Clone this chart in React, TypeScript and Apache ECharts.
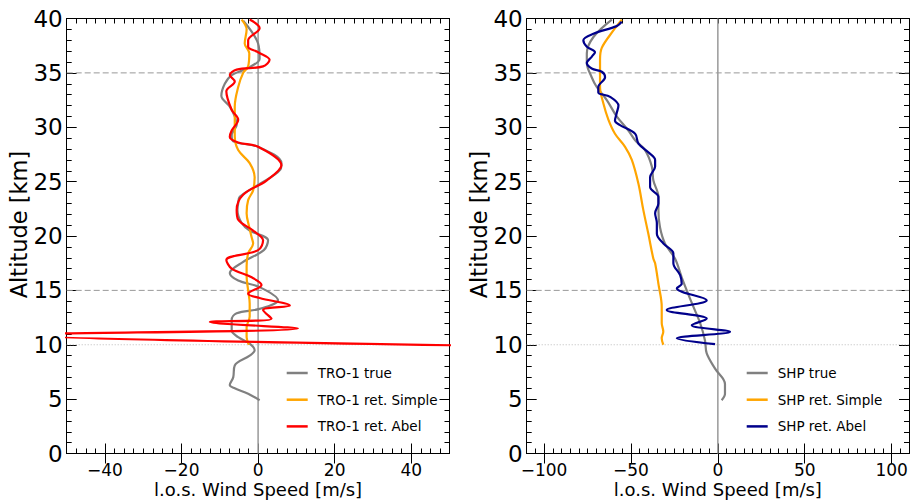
import React, { useEffect, useRef } from "react";
import * as echarts from "echarts";

const FONT = "DejaVu Sans";

// ---------- Left panel (TRO-1) ----------
const troTrueAlt = [39.8, 37.7, 36.3, 35.4, 34.8, 34.0, 32.9, 31.9, 31.0, 30.2, 29.3, 28.7, 28.2, 26.7, 26.1, 24.7, 23.6, 23.0, 22.4, 21.2, 20.5, 19.6, 18.7, 17.6, 16.6, 15.9, 15.3, 14.1, 13.3, 12.9, 12.3, 11.3, 10.7, 10.1, 9.5, 9.0, 8.1, 7.0, 6.3, 6.0, 5.5, 4.9];
const troTrueSpd = [-3.9, 0, 0.4, -3.0, -6.9, -8.7, -9.6, -7.4, -6.1, -5.6, -6.9, -6.5, 0, 6.1, 5.8, 0, -4.8, -5.2, -5.4, -4.3, -2.2, 2.6, 1.5, -4.0, -7.4, -5.2, 0.4, 5.2, 0.4, -5.6, -6.9, -6.9, -5.2, -2.2, -0.9, -2.2, -6.1, -6.5, -7.4, -6.1, -2.6, 0.4];

const troSimpleAlt = [39.9, 39.0, 37.7, 36.8, 35.6, 35.0, 33.7, 31.9, 30.1, 29.2, 27.9, 26.7, 25.4, 24.2, 23.3, 22.1, 20.8, 19.9, 19.3, 18.4, 17.2, 16.3, 15.0, 13.8, 12.6, 11.6, 10.7, 10.0];
const troSimpleSpd = [-4.3, -3.0, -3.5, -2.3, -2.6, -3.9, -5.2, -6.1, -6.1, -6.1, -5.2, -2.2, -0.9, -1.3, -2.6, -3.0, -2.3, -1.7, -1.3, -2.6, -3.0, -3.0, -2.6, -2.2, -2.2, -3.0, -3.0, -2.4];

const troAbelAlt = [39.9, 39.1, 38.0, 37.4, 36.9, 36.2, 35.6, 35.3, 34.8, 34.2, 33.3, 31.6, 30.7, 29.7, 29.1, 28.6, 28.2, 26.5, 25.1, 23.8, 22.4, 21.5, 20.5, 19.6, 18.7, 17.8, 17.0, 16.2, 15.5, 14.7, 14.3, 13.6, 13.2, 12.4, 12.1, 11.5, 10.9, 9.9];
const troAbelSpd = [-2.2, 0.4, -2.6, -2.6, 0, 3.0, 1.3, -5.6, -7.4, -6.1, -8.3, -6.9, -5.2, -6.9, -7.4, -5.2, 0, 6.1, 2.2, -3.9, -5.6, -5.2, -1.3, 1.3, 0, -8.3, -6.9, -1.7, 0.9, -2.6, 0.4, 8.3, 1.3, 3.5, -12.6, 10.4, -62, 60];

// ---------- Right panel (SHP) ----------
const shpTrueAlt = [39.9, 38.3, 36.8, 35.9, 34.6, 33.7, 32.5, 31.0, 29.7, 28.8, 27.9, 26.4, 25.1, 23.6, 22.4, 20.8, 19.3, 17.9, 16.2, 15.0, 13.5, 12.0, 10.4, 9.2, 7.8, 6.4, 5.5, 4.9];
const shpTrueSpd = [-61.0, -71.6, -75.4, -75.4, -72.6, -69.7, -63.9, -58.2, -51.5, -47.6, -41.9, -38.0, -37.1, -34.2, -34.2, -33.3, -30.4, -24.6, -20.8, -17.9, -14.1, -10.2, -7.4, -6.4, -1.6, 4.1, 4.1, 2.2];

const shpSimpleAlt = [39.9, 38.9, 37.3, 36.2, 34.6, 33.7, 32.2, 30.7, 29.4, 28.2, 27.0, 24.8, 22.4, 20.2, 17.9, 17.5, 15.6, 13.5, 12.0, 11.2, 10.6, 10.0];
const shpSimpleSpd = [-55.3, -60.1, -66.8, -67.8, -67.8, -67.8, -65.9, -63.0, -59.2, -53.4, -49.5, -45.7, -42.9, -40.0, -37.1, -36.1, -34.2, -32.3, -32.3, -31.4, -32.3, -31.4];

const shpAbelAlt = [39.7, 39.3, 38.6, 38.0, 37.4, 36.9, 36.5, 35.9, 35.4, 35.1, 34.6, 33.7, 33.2, 32.8, 32.0, 31.3, 30.6, 30.2, 29.4, 28.5, 27.7, 27.0, 26.4, 25.4, 24.5, 23.6, 23.0, 22.1, 21.2, 20.2, 19.3, 18.4, 17.5, 16.4, 15.6, 15.2, 14.1, 13.2, 12.4, 11.8, 11.2, 10.6, 10.05];
const shpAbelSpd = [-55.3, -58.2, -71.6, -77.4, -75.4, -70.7, -72.5, -75.4, -72.6, -66.8, -64.9, -68.8, -68.8, -62.0, -57.2, -58.2, -59.2, -56.3, -47.6, -45.7, -40.0, -36.1, -36.1, -39.0, -39.0, -34.2, -34.2, -36.1, -35.1, -35.1, -31.3, -25.6, -25.6, -21.7, -20.8, -23.6, -6.4, -29.4, -6.4, -15.0, 7.0, -23.6, -1.6];

// ---------- Axes ----------
const leftXRange = [-50, 50];
const leftXMajor = [-40, -20, 0, 20, 40];
const leftXMinorStep = 2.5;
const rightXRange = [-110, 110];
const rightXMajor = [-100, -50, 0, 50, 100];
const rightXMinorStep = 5;
const altRange = [0, 40];
const altStep = 5;
const dashedAlts = [15, 35];
const dottedAlts = [10];

const leftNames = ["TRO-1 true", "TRO-1 ret. Simple", "TRO-1 ret. Abel"];
const rightNames = ["SHP true", "SHP ret. Simple", "SHP ret. Abel"];
const colors = ["#808080", "#FFA500", "#FF0000"];
const rightColors = ["#808080", "#FFA500", "#00008B"];

const zip = (xs: number[], ys: number[]) => xs.map((x, i) => [x, ys[i]]);
const fmt = (v: number) => (v < 0 ? "\u2212" + Math.abs(v) : String(v));

const tickLine = { color: "#000", width: 1 };

function makeXAxes(gridIndex: number, range: number[], step: number, major: number[]) {
  const base = { type: "value", gridIndex, min: range[0], max: range[1], splitLine: { show: false } };
  return [
    {
      ...base,
      position: "bottom",
      interval: step,
      axisLine: { show: true, onZero: false, lineStyle: tickLine },
      axisTick: { show: true, inside: true, length: 5, lineStyle: tickLine },
      axisLabel: { show: true, customValues: major, formatter: fmt, fontSize: 17, lineHeight: 16, color: "#000", fontFamily: FONT, margin: 8 },
      name: "l.o.s. Wind Speed [m/s]",
      nameLocation: "middle",
      nameGap: 28,
      nameMoveOverlap: false,
      nameTextStyle: { fontSize: 18, lineHeight: 16, color: "#000", fontFamily: FONT },
    },
    {
      ...base,
      position: "bottom",
      axisLine: { show: false },
      axisTick: { show: true, inside: true, length: 10, customValues: major, lineStyle: tickLine },
      axisLabel: { show: false },
    },
    {
      ...base,
      position: "top",
      interval: step,
      axisLine: { show: true, onZero: false, lineStyle: tickLine },
      axisTick: { show: true, inside: true, length: 5, lineStyle: tickLine },
      axisLabel: { show: false },
    },
    {
      ...base,
      position: "top",
      axisLine: { show: false },
      axisTick: { show: true, inside: true, length: 10, customValues: major, lineStyle: tickLine },
      axisLabel: { show: false },
    },
  ];
}

function makeYAxes(gridIndex: number) {
  const base = {
    type: "value",
    gridIndex,
    min: altRange[0],
    max: altRange[1],
    interval: altStep,
    splitLine: { show: false },
    axisLine: { show: true, onZero: false, lineStyle: tickLine },
    axisTick: { show: true, inside: true, length: 10, lineStyle: tickLine },
    minorTick: { show: true, splitNumber: 5, length: 5, lineStyle: tickLine },
  };
  return [
    {
      ...base,
      position: "left",
      axisLabel: { show: true, fontSize: 23, color: "#000", fontFamily: FONT, margin: 4 },
      name: "Altitude [km]",
      nameLocation: "middle",
      nameGap: 36,
      nameMoveOverlap: false,
      nameTextStyle: { fontSize: 22.5, color: "#000", fontFamily: FONT, padding: [0, 0, 0, 23] },
    },
    { ...base, position: "right", axisLabel: { show: false } },
  ];
}

function refSeries(xIdx: number, yIdx: number, range: number[]) {
  const out: any[] = [];
  dashedAlts.forEach((a) =>
    out.push({
      type: "line", xAxisIndex: xIdx, yAxisIndex: yIdx, symbol: "none", silent: true, z: 1,
      data: [[range[0], a], [range[1], a]],
      lineStyle: { color: "#999", width: 1, type: [6, 3] },
    })
  );
  dottedAlts.forEach((a) =>
    out.push({
      type: "line", xAxisIndex: xIdx, yAxisIndex: yIdx, symbol: "none", silent: true, z: 1,
      data: [[range[0], a], [range[1], a]],
      lineStyle: { color: "#bbb", width: 1, type: [1, 2] },
    })
  );
  out.push({
    type: "line", xAxisIndex: xIdx, yAxisIndex: yIdx, symbol: "none", silent: true, z: 1,
    data: [[0, altRange[0]], [0, altRange[1]]],
    lineStyle: { color: "#999", width: 1.5 },
  });
  return out;
}

function curve(name: string, color: string, data: number[][], xIdx: number, yIdx: number) {
  return {
    type: "line", name, xAxisIndex: xIdx, yAxisIndex: yIdx, data, symbol: "none", smooth: 0.35, z: 2,
    lineStyle: { color, width: 2.2 }, itemStyle: { color },
  };
}

function legend(names: string[], left: number) {
  return {
    data: names,
    orient: "vertical",
    left,
    top: 361,
    icon: "rect",
    itemWidth: 21,
    itemHeight: 2.5,
    itemGap: 12.7,
    selectedMode: false,
    textStyle: { fontSize: 13.5, fontFamily: FONT, color: "#000", lineHeight: 14, padding: [0, 0, 0, 5] },
  };
}

export default function App() {
  const ref = useRef<HTMLDivElement>(null);
  useEffect(() => {
    if (!ref.current) return;
    const chart = echarts.init(ref.current, undefined, { renderer: "svg" });
    const option: any = {
      animation: false,
      backgroundColor: "#fff",
      textStyle: { fontFamily: FONT },
      grid: [
        { left: 66.7, top: 18.5, width: 382.8, height: 435, outerBoundsMode: "none", containLabel: false },
        { left: 526.7, top: 18.5, width: 382.3, height: 435, outerBoundsMode: "none", containLabel: false },
      ],
      xAxis: [
        ...makeXAxes(0, leftXRange, leftXMinorStep, leftXMajor),
        ...makeXAxes(1, rightXRange, rightXMinorStep, rightXMajor),
      ],
      yAxis: [...makeYAxes(0), ...makeYAxes(1)],
      legend: [legend(leftNames, 281.7), legend(rightNames, 741.7)],
      series: [
        ...refSeries(0, 0, leftXRange),
        ...refSeries(4, 2, rightXRange),
        curve(leftNames[0], colors[0], zip(troTrueSpd, troTrueAlt), 0, 0),
        curve(leftNames[1], colors[1], zip(troSimpleSpd, troSimpleAlt), 0, 0),
        curve(leftNames[2], colors[2], zip(troAbelSpd, troAbelAlt), 0, 0),
        curve(rightNames[0], rightColors[0], zip(shpTrueSpd, shpTrueAlt), 4, 2),
        curve(rightNames[1], rightColors[1], zip(shpSimpleSpd, shpSimpleAlt), 4, 2),
        curve(rightNames[2], rightColors[2], zip(shpAbelSpd, shpAbelAlt), 4, 2),
      ],
    };
    chart.setOption(option);
    return () => chart.dispose();
  }, []);
  return (
    <div
      ref={ref}
      style={{ position: "absolute", left: 0, top: 0, width: 916, height: 500 }}
    />
  );
}
